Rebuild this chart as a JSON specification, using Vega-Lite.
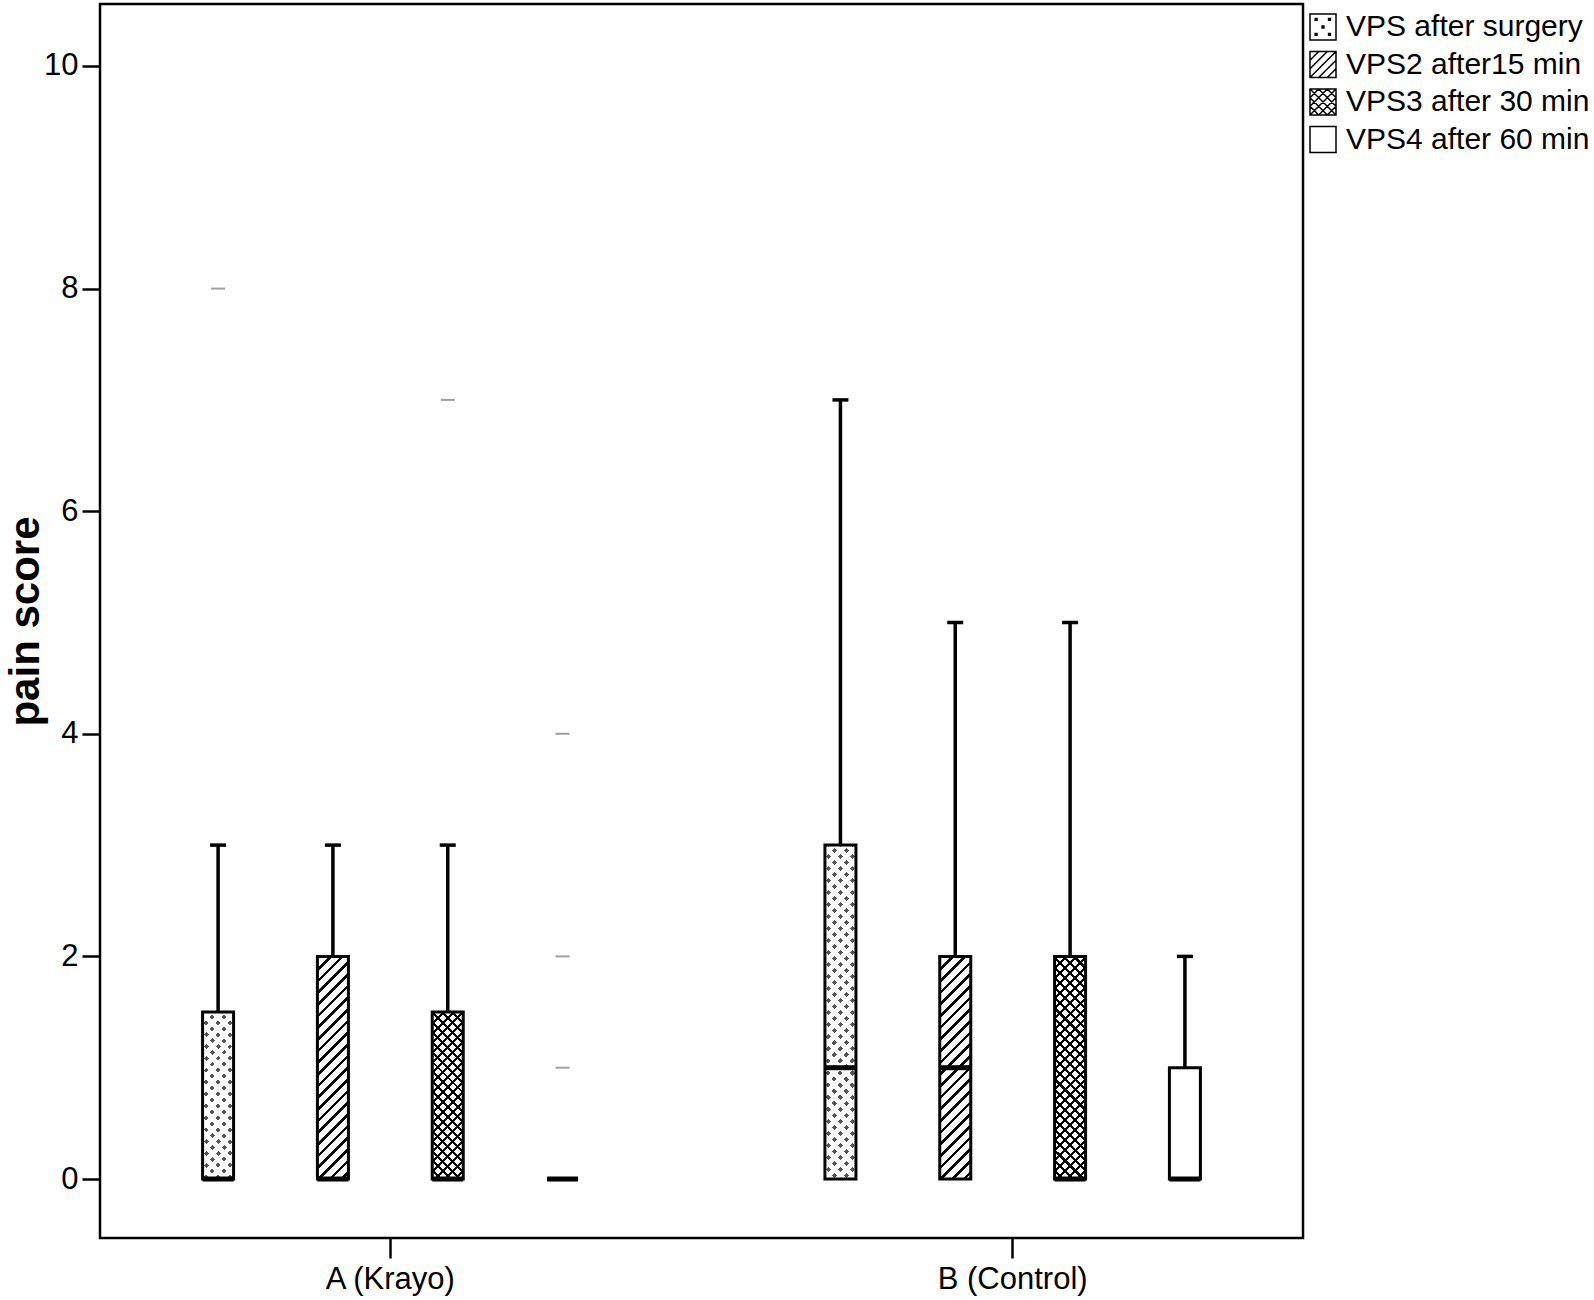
{
"$schema": "https://vega.github.io/schema/vega-lite/v6.json",
"width": 1203,
"height": 1234,
"autosize": {"type": "none"},
"padding": {"left": 100, "top": 4, "right": 291, "bottom": 62},
"background": "white",
"config": {
  "view": {"stroke": "black", "strokeWidth": 2.5},
  "font": "Liberation Sans",
  "axis": {"grid": false, "domain": false, "labelColor": "black", "tickColor": "black", "titleColor": "black", "labelFont": "Liberation Sans", "titleFont": "Liberation Sans"}
},
"datasets": {
  "boxes": [
    {"group": "A (Krayo)", "series": "VPS after surgery", "lower": 0, "q1": 0, "median": 0, "q3": 1.5, "upper": 3},
    {"group": "A (Krayo)", "series": "VPS2 after15 min", "lower": 0, "q1": 0, "median": 0, "q3": 2, "upper": 3},
    {"group": "A (Krayo)", "series": "VPS3 after 30 min", "lower": 0, "q1": 0, "median": 0, "q3": 1.5, "upper": 3},
    {"group": "A (Krayo)", "series": "VPS4 after 60 min", "lower": 0, "q1": 0, "median": 0, "q3": 0, "upper": 0},
    {"group": "B (Control)", "series": "VPS after surgery", "lower": 0, "q1": 0, "median": 1, "q3": 3, "upper": 7},
    {"group": "B (Control)", "series": "VPS2 after15 min", "lower": 0, "q1": 0, "median": 1, "q3": 2, "upper": 5},
    {"group": "B (Control)", "series": "VPS3 after 30 min", "lower": 0, "q1": 0, "median": 0, "q3": 2, "upper": 5},
    {"group": "B (Control)", "series": "VPS4 after 60 min", "lower": 0, "q1": 0, "median": 0, "q3": 1, "upper": 2}
  ],
  "outliers": [
    {"group": "A (Krayo)", "series": "VPS after surgery", "value": 8},
    {"group": "A (Krayo)", "series": "VPS3 after 30 min", "value": 7},
    {"group": "A (Krayo)", "series": "VPS4 after 60 min", "value": 4},
    {"group": "A (Krayo)", "series": "VPS4 after 60 min", "value": 2},
    {"group": "A (Krayo)", "series": "VPS4 after 60 min", "value": 1}
  ]
},
"encoding": {
  "x": {"field": "group", "type": "nominal", "title": null,
        "scale": {"domain": ["A (Krayo)", "B (Control)"], "paddingInner": 0.262, "paddingOuter": 0.0975},
        "axis": {"labelAngle": 0, "labelFontSize": 31, "tickSize": 20, "tickWidth": 2.5, "labelPadding": 6}},
  "xOffset": {"field": "series", "type": "nominal",
        "scale": {"domain": ["VPS after surgery", "VPS2 after15 min", "VPS3 after 30 min", "VPS4 after 60 min"], "paddingInner": 0.73, "paddingOuter": 0.365}}
},
"layer": [
  {"data": {"name": "boxes"},
   "transform": [{"filter": "datum.upper < 0"}],
   "mark": {"type": "point", "color": "black", "strokeWidth": 1.5, "opacity": 1},
   "encoding": {
     "y": {"field": "q1", "type": "quantitative", "title": "pain score",
           "scale": {"domain": [-0.53, 10.557], "nice": false, "zero": false},
           "axis": {"values": [0, 2, 4, 6, 8, 10], "format": "d", "tickSize": 18, "tickWidth": 2.5, "labelFontSize": 31, "labelPadding": 4, "titleFontSize": 42, "titleFontWeight": "bold", "titlePadding": -4}},
     "shape": {"field": "series", "type": "nominal",
       "scale": {"domain": ["VPS after surgery", "VPS2 after15 min", "VPS3 after 30 min", "VPS4 after 60 min"],
                 "range": [
                   "M-1,-1L1,-1L1,1L-1,1Z M-0.6,-0.65L-0.46,-0.65L-0.46,-0.51L-0.6,-0.51Z M0.43,-0.65L0.57,-0.65L0.57,-0.51L0.43,-0.51Z M-0.07,-0.07L0.07,-0.07L0.07,0.07L-0.07,0.07Z M-0.6,0.5L-0.46,0.5L-0.46,0.64L-0.6,0.64Z M0.43,0.5L0.57,0.5L0.57,0.64L0.43,0.64Z",
                   "M-1,-1L1,-1L1,1L-1,1Z M-1,-0.33L-0.33,-1 M-1,0.33L0.33,-1 M-1,1L1,-1 M-0.33,1L1,-0.33 M0.33,1L1,0.33",
                   "M-1,-1L1,-1L1,1L-1,1Z M-1,-0.33L-0.33,-1 M-1,0.33L0.33,-1 M-1,1L1,-1 M-0.33,1L1,-0.33 M0.33,1L1,0.33 M-1,0.33L-0.33,1 M-1,-0.33L0.33,1 M-1,-1L1,1 M-0.33,-1L1,0.33 M0.33,-1L1,-0.33",
                   "square"]},
       "legend": {"title": null, "orient": "none", "legendX": 1208, "legendY": 8, "symbolSize": 676, "symbolStrokeWidth": 1.5, "symbolStrokeColor": "black", "symbolOpacity": 1, "labelFontSize": 30, "labelFont": "Liberation Sans", "labelColor": "black", "labelOffset": 8, "rowPadding": 5.5, "padding": 0, "labelLimit": 400}}}},
  {"data": {"name": "boxes"}, "transform": [{"filter": "datum.upper > datum.q3"}],
   "mark": {"type": "rule", "color": "black", "strokeWidth": 3.5},
   "encoding": {
     "y": {"field": "q3", "type": "quantitative", "title": "pain score", "scale": {"domain": [-0.53, 10.557], "nice": false, "zero": false}},
     "y2": {"field": "upper"}}},
  {"data": {"name": "boxes"},
   "mark": {"type": "bar", "fill": "white"},
   "encoding": {"y": {"field": "q1", "type": "quantitative", "title": "pain score", "scale": {"domain": [-0.53, 10.557], "nice": false, "zero": false}}, "y2": {"field": "q3"}}},
  {"data": {"name": "boxes"},
   "transform": [{"filter": "datum.series == 'VPS2 after15 min'"}],
   "mark": {"type": "bar", "fill": {"gradient": "linear", "x1": 0, "y1": 0, "x2": 0.1556, "y2": 1.1176, "stops": [
{"offset":0,"color":"#000"},{"offset":0.015,"color":"#000"},{"offset":0.015,"color":"#fff"},{"offset":0.046,"color":"#fff"},
{"offset":0.046,"color":"#000"},{"offset":0.061,"color":"#000"},{"offset":0.061,"color":"#fff"},{"offset":0.092,"color":"#fff"},
{"offset":0.092,"color":"#000"},{"offset":0.107,"color":"#000"},{"offset":0.107,"color":"#fff"},{"offset":0.138,"color":"#fff"},
{"offset":0.138,"color":"#000"},{"offset":0.153,"color":"#000"},{"offset":0.153,"color":"#fff"},{"offset":0.184,"color":"#fff"},
{"offset":0.184,"color":"#000"},{"offset":0.199,"color":"#000"},{"offset":0.199,"color":"#fff"},{"offset":0.23,"color":"#fff"},
{"offset":0.23,"color":"#000"},{"offset":0.245,"color":"#000"},{"offset":0.245,"color":"#fff"},{"offset":0.276,"color":"#fff"},
{"offset":0.276,"color":"#000"},{"offset":0.291,"color":"#000"},{"offset":0.291,"color":"#fff"},{"offset":0.322,"color":"#fff"},
{"offset":0.322,"color":"#000"},{"offset":0.337,"color":"#000"},{"offset":0.337,"color":"#fff"},{"offset":0.368,"color":"#fff"},
{"offset":0.368,"color":"#000"},{"offset":0.383,"color":"#000"},{"offset":0.383,"color":"#fff"},{"offset":0.414,"color":"#fff"},
{"offset":0.414,"color":"#000"},{"offset":0.429,"color":"#000"},{"offset":0.429,"color":"#fff"},{"offset":0.46,"color":"#fff"},
{"offset":0.46,"color":"#000"},{"offset":0.475,"color":"#000"},{"offset":0.475,"color":"#fff"},{"offset":0.506,"color":"#fff"},
{"offset":0.506,"color":"#000"},{"offset":0.521,"color":"#000"},{"offset":0.521,"color":"#fff"},{"offset":0.552,"color":"#fff"},
{"offset":0.552,"color":"#000"},{"offset":0.567,"color":"#000"},{"offset":0.567,"color":"#fff"},{"offset":0.598,"color":"#fff"},
{"offset":0.598,"color":"#000"},{"offset":0.613,"color":"#000"},{"offset":0.613,"color":"#fff"},{"offset":0.644,"color":"#fff"},
{"offset":0.644,"color":"#000"},{"offset":0.659,"color":"#000"},{"offset":0.659,"color":"#fff"},{"offset":0.69,"color":"#fff"},
{"offset":0.69,"color":"#000"},{"offset":0.705,"color":"#000"},{"offset":0.705,"color":"#fff"},{"offset":0.736,"color":"#fff"},
{"offset":0.736,"color":"#000"},{"offset":0.751,"color":"#000"},{"offset":0.751,"color":"#fff"},{"offset":0.782,"color":"#fff"},
{"offset":0.782,"color":"#000"},{"offset":0.797,"color":"#000"},{"offset":0.797,"color":"#fff"},{"offset":0.828,"color":"#fff"},
{"offset":0.828,"color":"#000"},{"offset":0.843,"color":"#000"},{"offset":0.843,"color":"#fff"},{"offset":0.874,"color":"#fff"},
{"offset":0.874,"color":"#000"},{"offset":0.889,"color":"#000"},{"offset":0.889,"color":"#fff"},{"offset":0.92,"color":"#fff"},
{"offset":0.92,"color":"#000"},{"offset":0.935,"color":"#000"},{"offset":0.935,"color":"#fff"},{"offset":0.966,"color":"#fff"},
{"offset":0.966,"color":"#000"},{"offset":0.981,"color":"#000"},{"offset":0.981,"color":"#fff"},{"offset":1,"color":"#fff"}
   ]}},
   "encoding": {"y": {"field": "q1", "type": "quantitative", "title": "pain score", "scale": {"domain": [-0.53, 10.557], "nice": false, "zero": false}}, "y2": {"field": "q3"}}},
  {"data": {"name": "boxes"},
   "transform": [{"filter": "datum.series == 'VPS3 after 30 min' && datum.group == 'B (Control)'"}],
   "mark": {"type": "bar", "fill": {"gradient": "linear", "x1": 0, "y1": 0, "x2": 0.1556, "y2": 1.1176, "stops": [
{"offset":0,"color":"#000"},{"offset":0.012,"color":"#000"},{"offset":0.012,"color":"#fff"},{"offset":0.04,"color":"#fff"},
{"offset":0.04,"color":"#000"},{"offset":0.052,"color":"#000"},{"offset":0.052,"color":"#fff"},{"offset":0.08,"color":"#fff"},
{"offset":0.08,"color":"#000"},{"offset":0.092,"color":"#000"},{"offset":0.092,"color":"#fff"},{"offset":0.12,"color":"#fff"},
{"offset":0.12,"color":"#000"},{"offset":0.132,"color":"#000"},{"offset":0.132,"color":"#fff"},{"offset":0.16,"color":"#fff"},
{"offset":0.16,"color":"#000"},{"offset":0.172,"color":"#000"},{"offset":0.172,"color":"#fff"},{"offset":0.2,"color":"#fff"},
{"offset":0.2,"color":"#000"},{"offset":0.212,"color":"#000"},{"offset":0.212,"color":"#fff"},{"offset":0.24,"color":"#fff"},
{"offset":0.24,"color":"#000"},{"offset":0.252,"color":"#000"},{"offset":0.252,"color":"#fff"},{"offset":0.28,"color":"#fff"},
{"offset":0.28,"color":"#000"},{"offset":0.292,"color":"#000"},{"offset":0.292,"color":"#fff"},{"offset":0.32,"color":"#fff"},
{"offset":0.32,"color":"#000"},{"offset":0.332,"color":"#000"},{"offset":0.332,"color":"#fff"},{"offset":0.36,"color":"#fff"},
{"offset":0.36,"color":"#000"},{"offset":0.372,"color":"#000"},{"offset":0.372,"color":"#fff"},{"offset":0.4,"color":"#fff"},
{"offset":0.4,"color":"#000"},{"offset":0.412,"color":"#000"},{"offset":0.412,"color":"#fff"},{"offset":0.44,"color":"#fff"},
{"offset":0.44,"color":"#000"},{"offset":0.452,"color":"#000"},{"offset":0.452,"color":"#fff"},{"offset":0.48,"color":"#fff"},
{"offset":0.48,"color":"#000"},{"offset":0.492,"color":"#000"},{"offset":0.492,"color":"#fff"},{"offset":0.52,"color":"#fff"},
{"offset":0.52,"color":"#000"},{"offset":0.532,"color":"#000"},{"offset":0.532,"color":"#fff"},{"offset":0.56,"color":"#fff"},
{"offset":0.56,"color":"#000"},{"offset":0.572,"color":"#000"},{"offset":0.572,"color":"#fff"},{"offset":0.6,"color":"#fff"},
{"offset":0.6,"color":"#000"},{"offset":0.612,"color":"#000"},{"offset":0.612,"color":"#fff"},{"offset":0.64,"color":"#fff"},
{"offset":0.64,"color":"#000"},{"offset":0.652,"color":"#000"},{"offset":0.652,"color":"#fff"},{"offset":0.68,"color":"#fff"},
{"offset":0.68,"color":"#000"},{"offset":0.692,"color":"#000"},{"offset":0.692,"color":"#fff"},{"offset":0.72,"color":"#fff"},
{"offset":0.72,"color":"#000"},{"offset":0.732,"color":"#000"},{"offset":0.732,"color":"#fff"},{"offset":0.76,"color":"#fff"},
{"offset":0.76,"color":"#000"},{"offset":0.772,"color":"#000"},{"offset":0.772,"color":"#fff"},{"offset":0.8,"color":"#fff"},
{"offset":0.8,"color":"#000"},{"offset":0.812,"color":"#000"},{"offset":0.812,"color":"#fff"},{"offset":0.84,"color":"#fff"},
{"offset":0.84,"color":"#000"},{"offset":0.852,"color":"#000"},{"offset":0.852,"color":"#fff"},{"offset":0.88,"color":"#fff"},
{"offset":0.88,"color":"#000"},{"offset":0.892,"color":"#000"},{"offset":0.892,"color":"#fff"},{"offset":0.92,"color":"#fff"},
{"offset":0.92,"color":"#000"},{"offset":0.932,"color":"#000"},{"offset":0.932,"color":"#fff"},{"offset":0.96,"color":"#fff"},
{"offset":0.96,"color":"#000"},{"offset":0.972,"color":"#000"},{"offset":0.972,"color":"#fff"},{"offset":1,"color":"#fff"}
   ]}},
   "encoding": {"y": {"field": "q1", "type": "quantitative", "title": "pain score", "scale": {"domain": [-0.53, 10.557], "nice": false, "zero": false}}, "y2": {"field": "q3"}}},
  {"data": {"name": "boxes"},
   "transform": [{"filter": "datum.series == 'VPS3 after 30 min' && datum.group == 'B (Control)'"}],
   "mark": {"type": "bar", "fill": {"gradient": "linear", "x1": 1, "y1": 0, "x2": 0.8444, "y2": 1.1176, "stops": [
{"offset":0,"color":"#000"},{"offset":0.012,"color":"#000"},{"offset":0.012,"color":"transparent"},{"offset":0.04,"color":"transparent"},
{"offset":0.04,"color":"#000"},{"offset":0.052,"color":"#000"},{"offset":0.052,"color":"transparent"},{"offset":0.08,"color":"transparent"},
{"offset":0.08,"color":"#000"},{"offset":0.092,"color":"#000"},{"offset":0.092,"color":"transparent"},{"offset":0.12,"color":"transparent"},
{"offset":0.12,"color":"#000"},{"offset":0.132,"color":"#000"},{"offset":0.132,"color":"transparent"},{"offset":0.16,"color":"transparent"},
{"offset":0.16,"color":"#000"},{"offset":0.172,"color":"#000"},{"offset":0.172,"color":"transparent"},{"offset":0.2,"color":"transparent"},
{"offset":0.2,"color":"#000"},{"offset":0.212,"color":"#000"},{"offset":0.212,"color":"transparent"},{"offset":0.24,"color":"transparent"},
{"offset":0.24,"color":"#000"},{"offset":0.252,"color":"#000"},{"offset":0.252,"color":"transparent"},{"offset":0.28,"color":"transparent"},
{"offset":0.28,"color":"#000"},{"offset":0.292,"color":"#000"},{"offset":0.292,"color":"transparent"},{"offset":0.32,"color":"transparent"},
{"offset":0.32,"color":"#000"},{"offset":0.332,"color":"#000"},{"offset":0.332,"color":"transparent"},{"offset":0.36,"color":"transparent"},
{"offset":0.36,"color":"#000"},{"offset":0.372,"color":"#000"},{"offset":0.372,"color":"transparent"},{"offset":0.4,"color":"transparent"},
{"offset":0.4,"color":"#000"},{"offset":0.412,"color":"#000"},{"offset":0.412,"color":"transparent"},{"offset":0.44,"color":"transparent"},
{"offset":0.44,"color":"#000"},{"offset":0.452,"color":"#000"},{"offset":0.452,"color":"transparent"},{"offset":0.48,"color":"transparent"},
{"offset":0.48,"color":"#000"},{"offset":0.492,"color":"#000"},{"offset":0.492,"color":"transparent"},{"offset":0.52,"color":"transparent"},
{"offset":0.52,"color":"#000"},{"offset":0.532,"color":"#000"},{"offset":0.532,"color":"transparent"},{"offset":0.56,"color":"transparent"},
{"offset":0.56,"color":"#000"},{"offset":0.572,"color":"#000"},{"offset":0.572,"color":"transparent"},{"offset":0.6,"color":"transparent"},
{"offset":0.6,"color":"#000"},{"offset":0.612,"color":"#000"},{"offset":0.612,"color":"transparent"},{"offset":0.64,"color":"transparent"},
{"offset":0.64,"color":"#000"},{"offset":0.652,"color":"#000"},{"offset":0.652,"color":"transparent"},{"offset":0.68,"color":"transparent"},
{"offset":0.68,"color":"#000"},{"offset":0.692,"color":"#000"},{"offset":0.692,"color":"transparent"},{"offset":0.72,"color":"transparent"},
{"offset":0.72,"color":"#000"},{"offset":0.732,"color":"#000"},{"offset":0.732,"color":"transparent"},{"offset":0.76,"color":"transparent"},
{"offset":0.76,"color":"#000"},{"offset":0.772,"color":"#000"},{"offset":0.772,"color":"transparent"},{"offset":0.8,"color":"transparent"},
{"offset":0.8,"color":"#000"},{"offset":0.812,"color":"#000"},{"offset":0.812,"color":"transparent"},{"offset":0.84,"color":"transparent"},
{"offset":0.84,"color":"#000"},{"offset":0.852,"color":"#000"},{"offset":0.852,"color":"transparent"},{"offset":0.88,"color":"transparent"},
{"offset":0.88,"color":"#000"},{"offset":0.892,"color":"#000"},{"offset":0.892,"color":"transparent"},{"offset":0.92,"color":"transparent"},
{"offset":0.92,"color":"#000"},{"offset":0.932,"color":"#000"},{"offset":0.932,"color":"transparent"},{"offset":0.96,"color":"transparent"},
{"offset":0.96,"color":"#000"},{"offset":0.972,"color":"#000"},{"offset":0.972,"color":"transparent"},{"offset":1,"color":"transparent"}
   ]}},
   "encoding": {"y": {"field": "q1", "type": "quantitative", "title": "pain score", "scale": {"domain": [-0.53, 10.557], "nice": false, "zero": false}}, "y2": {"field": "q3"}}},
  {"data": {"name": "boxes"},
   "transform": [{"filter": "datum.series == 'VPS3 after 30 min' && datum.group == 'A (Krayo)'"}],
   "mark": {"type": "bar", "fill": {"gradient": "linear", "x1": 0, "y1": 0, "x2": 0.2128, "y2": 1.1462, "stops": [
{"offset":0,"color":"#000"},{"offset":0.015,"color":"#000"},{"offset":0.015,"color":"#fff"},{"offset":0.05,"color":"#fff"},
{"offset":0.05,"color":"#000"},{"offset":0.065,"color":"#000"},{"offset":0.065,"color":"#fff"},{"offset":0.1,"color":"#fff"},
{"offset":0.1,"color":"#000"},{"offset":0.115,"color":"#000"},{"offset":0.115,"color":"#fff"},{"offset":0.15,"color":"#fff"},
{"offset":0.15,"color":"#000"},{"offset":0.165,"color":"#000"},{"offset":0.165,"color":"#fff"},{"offset":0.2,"color":"#fff"},
{"offset":0.2,"color":"#000"},{"offset":0.215,"color":"#000"},{"offset":0.215,"color":"#fff"},{"offset":0.25,"color":"#fff"},
{"offset":0.25,"color":"#000"},{"offset":0.265,"color":"#000"},{"offset":0.265,"color":"#fff"},{"offset":0.3,"color":"#fff"},
{"offset":0.3,"color":"#000"},{"offset":0.315,"color":"#000"},{"offset":0.315,"color":"#fff"},{"offset":0.35,"color":"#fff"},
{"offset":0.35,"color":"#000"},{"offset":0.365,"color":"#000"},{"offset":0.365,"color":"#fff"},{"offset":0.4,"color":"#fff"},
{"offset":0.4,"color":"#000"},{"offset":0.415,"color":"#000"},{"offset":0.415,"color":"#fff"},{"offset":0.45,"color":"#fff"},
{"offset":0.45,"color":"#000"},{"offset":0.465,"color":"#000"},{"offset":0.465,"color":"#fff"},{"offset":0.5,"color":"#fff"},
{"offset":0.5,"color":"#000"},{"offset":0.515,"color":"#000"},{"offset":0.515,"color":"#fff"},{"offset":0.55,"color":"#fff"},
{"offset":0.55,"color":"#000"},{"offset":0.565,"color":"#000"},{"offset":0.565,"color":"#fff"},{"offset":0.6,"color":"#fff"},
{"offset":0.6,"color":"#000"},{"offset":0.615,"color":"#000"},{"offset":0.615,"color":"#fff"},{"offset":0.65,"color":"#fff"},
{"offset":0.65,"color":"#000"},{"offset":0.665,"color":"#000"},{"offset":0.665,"color":"#fff"},{"offset":0.7,"color":"#fff"},
{"offset":0.7,"color":"#000"},{"offset":0.715,"color":"#000"},{"offset":0.715,"color":"#fff"},{"offset":0.75,"color":"#fff"},
{"offset":0.75,"color":"#000"},{"offset":0.765,"color":"#000"},{"offset":0.765,"color":"#fff"},{"offset":0.8,"color":"#fff"},
{"offset":0.8,"color":"#000"},{"offset":0.815,"color":"#000"},{"offset":0.815,"color":"#fff"},{"offset":0.85,"color":"#fff"},
{"offset":0.85,"color":"#000"},{"offset":0.865,"color":"#000"},{"offset":0.865,"color":"#fff"},{"offset":0.9,"color":"#fff"},
{"offset":0.9,"color":"#000"},{"offset":0.915,"color":"#000"},{"offset":0.915,"color":"#fff"},{"offset":0.95,"color":"#fff"},
{"offset":0.95,"color":"#000"},{"offset":0.965,"color":"#000"},{"offset":0.965,"color":"#fff"},{"offset":1,"color":"#fff"}
   ]}},
   "encoding": {"y": {"field": "q1", "type": "quantitative", "title": "pain score", "scale": {"domain": [-0.53, 10.557], "nice": false, "zero": false}}, "y2": {"field": "q3"}}},
  {"data": {"name": "boxes"},
   "transform": [{"filter": "datum.series == 'VPS3 after 30 min' && datum.group == 'A (Krayo)'"}],
   "mark": {"type": "bar", "fill": {"gradient": "linear", "x1": 1, "y1": 0, "x2": 0.7872, "y2": 1.1462, "stops": [
{"offset":0,"color":"#000"},{"offset":0.015,"color":"#000"},{"offset":0.015,"color":"transparent"},{"offset":0.05,"color":"transparent"},
{"offset":0.05,"color":"#000"},{"offset":0.065,"color":"#000"},{"offset":0.065,"color":"transparent"},{"offset":0.1,"color":"transparent"},
{"offset":0.1,"color":"#000"},{"offset":0.115,"color":"#000"},{"offset":0.115,"color":"transparent"},{"offset":0.15,"color":"transparent"},
{"offset":0.15,"color":"#000"},{"offset":0.165,"color":"#000"},{"offset":0.165,"color":"transparent"},{"offset":0.2,"color":"transparent"},
{"offset":0.2,"color":"#000"},{"offset":0.215,"color":"#000"},{"offset":0.215,"color":"transparent"},{"offset":0.25,"color":"transparent"},
{"offset":0.25,"color":"#000"},{"offset":0.265,"color":"#000"},{"offset":0.265,"color":"transparent"},{"offset":0.3,"color":"transparent"},
{"offset":0.3,"color":"#000"},{"offset":0.315,"color":"#000"},{"offset":0.315,"color":"transparent"},{"offset":0.35,"color":"transparent"},
{"offset":0.35,"color":"#000"},{"offset":0.365,"color":"#000"},{"offset":0.365,"color":"transparent"},{"offset":0.4,"color":"transparent"},
{"offset":0.4,"color":"#000"},{"offset":0.415,"color":"#000"},{"offset":0.415,"color":"transparent"},{"offset":0.45,"color":"transparent"},
{"offset":0.45,"color":"#000"},{"offset":0.465,"color":"#000"},{"offset":0.465,"color":"transparent"},{"offset":0.5,"color":"transparent"},
{"offset":0.5,"color":"#000"},{"offset":0.515,"color":"#000"},{"offset":0.515,"color":"transparent"},{"offset":0.55,"color":"transparent"},
{"offset":0.55,"color":"#000"},{"offset":0.565,"color":"#000"},{"offset":0.565,"color":"transparent"},{"offset":0.6,"color":"transparent"},
{"offset":0.6,"color":"#000"},{"offset":0.615,"color":"#000"},{"offset":0.615,"color":"transparent"},{"offset":0.65,"color":"transparent"},
{"offset":0.65,"color":"#000"},{"offset":0.665,"color":"#000"},{"offset":0.665,"color":"transparent"},{"offset":0.7,"color":"transparent"},
{"offset":0.7,"color":"#000"},{"offset":0.715,"color":"#000"},{"offset":0.715,"color":"transparent"},{"offset":0.75,"color":"transparent"},
{"offset":0.75,"color":"#000"},{"offset":0.765,"color":"#000"},{"offset":0.765,"color":"transparent"},{"offset":0.8,"color":"transparent"},
{"offset":0.8,"color":"#000"},{"offset":0.815,"color":"#000"},{"offset":0.815,"color":"transparent"},{"offset":0.85,"color":"transparent"},
{"offset":0.85,"color":"#000"},{"offset":0.865,"color":"#000"},{"offset":0.865,"color":"transparent"},{"offset":0.9,"color":"transparent"},
{"offset":0.9,"color":"#000"},{"offset":0.915,"color":"#000"},{"offset":0.915,"color":"transparent"},{"offset":0.95,"color":"transparent"},
{"offset":0.95,"color":"#000"},{"offset":0.965,"color":"#000"},{"offset":0.965,"color":"transparent"},{"offset":1,"color":"transparent"}
   ]}},
   "encoding": {"y": {"field": "q1", "type": "quantitative", "title": "pain score", "scale": {"domain": [-0.53, 10.557], "nice": false, "zero": false}}, "y2": {"field": "q3"}}},
  {"data": {"name": "boxes"},
   "transform": [{"filter": "datum.series == 'VPS after surgery' && datum.group == 'A (Krayo)'"}],
   "mark": {"type": "bar", "fill": {"gradient": "linear", "x1": 0, "y1": 0, "x2": 0.2128, "y2": 1.1462, "stops": [
{"offset":0,"color":"#555"},{"offset":0.025,"color":"#555"},{"offset":0.025,"color":"#fff"},{"offset":0.06,"color":"#fff"},
{"offset":0.06,"color":"#555"},{"offset":0.085,"color":"#555"},{"offset":0.085,"color":"#fff"},{"offset":0.12,"color":"#fff"},
{"offset":0.12,"color":"#555"},{"offset":0.145,"color":"#555"},{"offset":0.145,"color":"#fff"},{"offset":0.18,"color":"#fff"},
{"offset":0.18,"color":"#555"},{"offset":0.205,"color":"#555"},{"offset":0.205,"color":"#fff"},{"offset":0.24,"color":"#fff"},
{"offset":0.24,"color":"#555"},{"offset":0.265,"color":"#555"},{"offset":0.265,"color":"#fff"},{"offset":0.3,"color":"#fff"},
{"offset":0.3,"color":"#555"},{"offset":0.325,"color":"#555"},{"offset":0.325,"color":"#fff"},{"offset":0.36,"color":"#fff"},
{"offset":0.36,"color":"#555"},{"offset":0.385,"color":"#555"},{"offset":0.385,"color":"#fff"},{"offset":0.42,"color":"#fff"},
{"offset":0.42,"color":"#555"},{"offset":0.445,"color":"#555"},{"offset":0.445,"color":"#fff"},{"offset":0.48,"color":"#fff"},
{"offset":0.48,"color":"#555"},{"offset":0.505,"color":"#555"},{"offset":0.505,"color":"#fff"},{"offset":0.54,"color":"#fff"},
{"offset":0.54,"color":"#555"},{"offset":0.565,"color":"#555"},{"offset":0.565,"color":"#fff"},{"offset":0.6,"color":"#fff"},
{"offset":0.6,"color":"#555"},{"offset":0.625,"color":"#555"},{"offset":0.625,"color":"#fff"},{"offset":0.66,"color":"#fff"},
{"offset":0.66,"color":"#555"},{"offset":0.685,"color":"#555"},{"offset":0.685,"color":"#fff"},{"offset":0.72,"color":"#fff"},
{"offset":0.72,"color":"#555"},{"offset":0.745,"color":"#555"},{"offset":0.745,"color":"#fff"},{"offset":0.78,"color":"#fff"},
{"offset":0.78,"color":"#555"},{"offset":0.805,"color":"#555"},{"offset":0.805,"color":"#fff"},{"offset":0.84,"color":"#fff"},
{"offset":0.84,"color":"#555"},{"offset":0.865,"color":"#555"},{"offset":0.865,"color":"#fff"},{"offset":0.9,"color":"#fff"},
{"offset":0.9,"color":"#555"},{"offset":0.925,"color":"#555"},{"offset":0.925,"color":"#fff"},{"offset":0.96,"color":"#fff"},
{"offset":0.96,"color":"#555"},{"offset":0.985,"color":"#555"},{"offset":0.985,"color":"#fff"},{"offset":1,"color":"#fff"}
   ]}},
   "encoding": {"y": {"field": "q1", "type": "quantitative", "title": "pain score", "scale": {"domain": [-0.53, 10.557], "nice": false, "zero": false}}, "y2": {"field": "q3"}}},
  {"data": {"name": "boxes"},
   "transform": [{"filter": "datum.series == 'VPS after surgery' && datum.group == 'A (Krayo)'"}],
   "mark": {"type": "bar", "fill": {"gradient": "linear", "x1": 1, "y1": 0, "x2": 0.7872, "y2": 1.1462, "stops": [
{"offset":0,"color":"transparent"},{"offset":0.025,"color":"transparent"},{"offset":0.025,"color":"#fff"},{"offset":0.06,"color":"#fff"},
{"offset":0.06,"color":"transparent"},{"offset":0.085,"color":"transparent"},{"offset":0.085,"color":"#fff"},{"offset":0.12,"color":"#fff"},
{"offset":0.12,"color":"transparent"},{"offset":0.145,"color":"transparent"},{"offset":0.145,"color":"#fff"},{"offset":0.18,"color":"#fff"},
{"offset":0.18,"color":"transparent"},{"offset":0.205,"color":"transparent"},{"offset":0.205,"color":"#fff"},{"offset":0.24,"color":"#fff"},
{"offset":0.24,"color":"transparent"},{"offset":0.265,"color":"transparent"},{"offset":0.265,"color":"#fff"},{"offset":0.3,"color":"#fff"},
{"offset":0.3,"color":"transparent"},{"offset":0.325,"color":"transparent"},{"offset":0.325,"color":"#fff"},{"offset":0.36,"color":"#fff"},
{"offset":0.36,"color":"transparent"},{"offset":0.385,"color":"transparent"},{"offset":0.385,"color":"#fff"},{"offset":0.42,"color":"#fff"},
{"offset":0.42,"color":"transparent"},{"offset":0.445,"color":"transparent"},{"offset":0.445,"color":"#fff"},{"offset":0.48,"color":"#fff"},
{"offset":0.48,"color":"transparent"},{"offset":0.505,"color":"transparent"},{"offset":0.505,"color":"#fff"},{"offset":0.54,"color":"#fff"},
{"offset":0.54,"color":"transparent"},{"offset":0.565,"color":"transparent"},{"offset":0.565,"color":"#fff"},{"offset":0.6,"color":"#fff"},
{"offset":0.6,"color":"transparent"},{"offset":0.625,"color":"transparent"},{"offset":0.625,"color":"#fff"},{"offset":0.66,"color":"#fff"},
{"offset":0.66,"color":"transparent"},{"offset":0.685,"color":"transparent"},{"offset":0.685,"color":"#fff"},{"offset":0.72,"color":"#fff"},
{"offset":0.72,"color":"transparent"},{"offset":0.745,"color":"transparent"},{"offset":0.745,"color":"#fff"},{"offset":0.78,"color":"#fff"},
{"offset":0.78,"color":"transparent"},{"offset":0.805,"color":"transparent"},{"offset":0.805,"color":"#fff"},{"offset":0.84,"color":"#fff"},
{"offset":0.84,"color":"transparent"},{"offset":0.865,"color":"transparent"},{"offset":0.865,"color":"#fff"},{"offset":0.9,"color":"#fff"},
{"offset":0.9,"color":"transparent"},{"offset":0.925,"color":"transparent"},{"offset":0.925,"color":"#fff"},{"offset":0.96,"color":"#fff"},
{"offset":0.96,"color":"transparent"},{"offset":0.985,"color":"transparent"},{"offset":0.985,"color":"#fff"},{"offset":1,"color":"#fff"}
   ]}},
   "encoding": {"y": {"field": "q1", "type": "quantitative", "title": "pain score", "scale": {"domain": [-0.53, 10.557], "nice": false, "zero": false}}, "y2": {"field": "q3"}}},
  {"data": {"name": "boxes"},
   "transform": [{"filter": "datum.series == 'VPS after surgery' && datum.group == 'B (Control)'"}],
   "mark": {"type": "bar", "fill": {"gradient": "linear", "x1": 0, "y1": 0, "x2": 0.1006, "y2": 1.0835, "stops": [
{"offset":0,"color":"#555"},{"offset":0.014,"color":"#555"},{"offset":0.014,"color":"#fff"},{"offset":0.033,"color":"#fff"},
{"offset":0.033,"color":"#555"},{"offset":0.047,"color":"#555"},{"offset":0.047,"color":"#fff"},{"offset":0.066,"color":"#fff"},
{"offset":0.066,"color":"#555"},{"offset":0.08,"color":"#555"},{"offset":0.08,"color":"#fff"},{"offset":0.099,"color":"#fff"},
{"offset":0.099,"color":"#555"},{"offset":0.113,"color":"#555"},{"offset":0.113,"color":"#fff"},{"offset":0.132,"color":"#fff"},
{"offset":0.132,"color":"#555"},{"offset":0.146,"color":"#555"},{"offset":0.146,"color":"#fff"},{"offset":0.165,"color":"#fff"},
{"offset":0.165,"color":"#555"},{"offset":0.179,"color":"#555"},{"offset":0.179,"color":"#fff"},{"offset":0.198,"color":"#fff"},
{"offset":0.198,"color":"#555"},{"offset":0.212,"color":"#555"},{"offset":0.212,"color":"#fff"},{"offset":0.231,"color":"#fff"},
{"offset":0.231,"color":"#555"},{"offset":0.245,"color":"#555"},{"offset":0.245,"color":"#fff"},{"offset":0.264,"color":"#fff"},
{"offset":0.264,"color":"#555"},{"offset":0.278,"color":"#555"},{"offset":0.278,"color":"#fff"},{"offset":0.297,"color":"#fff"},
{"offset":0.297,"color":"#555"},{"offset":0.311,"color":"#555"},{"offset":0.311,"color":"#fff"},{"offset":0.33,"color":"#fff"},
{"offset":0.33,"color":"#555"},{"offset":0.344,"color":"#555"},{"offset":0.344,"color":"#fff"},{"offset":0.363,"color":"#fff"},
{"offset":0.363,"color":"#555"},{"offset":0.377,"color":"#555"},{"offset":0.377,"color":"#fff"},{"offset":0.396,"color":"#fff"},
{"offset":0.396,"color":"#555"},{"offset":0.41,"color":"#555"},{"offset":0.41,"color":"#fff"},{"offset":0.429,"color":"#fff"},
{"offset":0.429,"color":"#555"},{"offset":0.443,"color":"#555"},{"offset":0.443,"color":"#fff"},{"offset":0.462,"color":"#fff"},
{"offset":0.462,"color":"#555"},{"offset":0.476,"color":"#555"},{"offset":0.476,"color":"#fff"},{"offset":0.495,"color":"#fff"},
{"offset":0.495,"color":"#555"},{"offset":0.509,"color":"#555"},{"offset":0.509,"color":"#fff"},{"offset":0.528,"color":"#fff"},
{"offset":0.528,"color":"#555"},{"offset":0.542,"color":"#555"},{"offset":0.542,"color":"#fff"},{"offset":0.561,"color":"#fff"},
{"offset":0.561,"color":"#555"},{"offset":0.575,"color":"#555"},{"offset":0.575,"color":"#fff"},{"offset":0.594,"color":"#fff"},
{"offset":0.594,"color":"#555"},{"offset":0.608,"color":"#555"},{"offset":0.608,"color":"#fff"},{"offset":0.627,"color":"#fff"},
{"offset":0.627,"color":"#555"},{"offset":0.641,"color":"#555"},{"offset":0.641,"color":"#fff"},{"offset":0.66,"color":"#fff"},
{"offset":0.66,"color":"#555"},{"offset":0.674,"color":"#555"},{"offset":0.674,"color":"#fff"},{"offset":0.693,"color":"#fff"},
{"offset":0.693,"color":"#555"},{"offset":0.707,"color":"#555"},{"offset":0.707,"color":"#fff"},{"offset":0.726,"color":"#fff"},
{"offset":0.726,"color":"#555"},{"offset":0.74,"color":"#555"},{"offset":0.74,"color":"#fff"},{"offset":0.759,"color":"#fff"},
{"offset":0.759,"color":"#555"},{"offset":0.773,"color":"#555"},{"offset":0.773,"color":"#fff"},{"offset":0.792,"color":"#fff"},
{"offset":0.792,"color":"#555"},{"offset":0.806,"color":"#555"},{"offset":0.806,"color":"#fff"},{"offset":0.825,"color":"#fff"},
{"offset":0.825,"color":"#555"},{"offset":0.839,"color":"#555"},{"offset":0.839,"color":"#fff"},{"offset":0.858,"color":"#fff"},
{"offset":0.858,"color":"#555"},{"offset":0.872,"color":"#555"},{"offset":0.872,"color":"#fff"},{"offset":0.891,"color":"#fff"},
{"offset":0.891,"color":"#555"},{"offset":0.905,"color":"#555"},{"offset":0.905,"color":"#fff"},{"offset":0.924,"color":"#fff"},
{"offset":0.924,"color":"#555"},{"offset":0.938,"color":"#555"},{"offset":0.938,"color":"#fff"},{"offset":0.957,"color":"#fff"},
{"offset":0.957,"color":"#555"},{"offset":0.971,"color":"#555"},{"offset":0.971,"color":"#fff"},{"offset":0.99,"color":"#fff"},
{"offset":0.99,"color":"#555"},{"offset":1,"color":"#555"}
   ]}},
   "encoding": {"y": {"field": "q1", "type": "quantitative", "title": "pain score", "scale": {"domain": [-0.53, 10.557], "nice": false, "zero": false}}, "y2": {"field": "q3"}}},
  {"data": {"name": "boxes"},
   "transform": [{"filter": "datum.series == 'VPS after surgery' && datum.group == 'B (Control)'"}],
   "mark": {"type": "bar", "fill": {"gradient": "linear", "x1": 1, "y1": 0, "x2": 0.8994, "y2": 1.0835, "stops": [
{"offset":0,"color":"transparent"},{"offset":0.014,"color":"transparent"},{"offset":0.014,"color":"#fff"},{"offset":0.033,"color":"#fff"},
{"offset":0.033,"color":"transparent"},{"offset":0.047,"color":"transparent"},{"offset":0.047,"color":"#fff"},{"offset":0.066,"color":"#fff"},
{"offset":0.066,"color":"transparent"},{"offset":0.08,"color":"transparent"},{"offset":0.08,"color":"#fff"},{"offset":0.099,"color":"#fff"},
{"offset":0.099,"color":"transparent"},{"offset":0.113,"color":"transparent"},{"offset":0.113,"color":"#fff"},{"offset":0.132,"color":"#fff"},
{"offset":0.132,"color":"transparent"},{"offset":0.146,"color":"transparent"},{"offset":0.146,"color":"#fff"},{"offset":0.165,"color":"#fff"},
{"offset":0.165,"color":"transparent"},{"offset":0.179,"color":"transparent"},{"offset":0.179,"color":"#fff"},{"offset":0.198,"color":"#fff"},
{"offset":0.198,"color":"transparent"},{"offset":0.212,"color":"transparent"},{"offset":0.212,"color":"#fff"},{"offset":0.231,"color":"#fff"},
{"offset":0.231,"color":"transparent"},{"offset":0.245,"color":"transparent"},{"offset":0.245,"color":"#fff"},{"offset":0.264,"color":"#fff"},
{"offset":0.264,"color":"transparent"},{"offset":0.278,"color":"transparent"},{"offset":0.278,"color":"#fff"},{"offset":0.297,"color":"#fff"},
{"offset":0.297,"color":"transparent"},{"offset":0.311,"color":"transparent"},{"offset":0.311,"color":"#fff"},{"offset":0.33,"color":"#fff"},
{"offset":0.33,"color":"transparent"},{"offset":0.344,"color":"transparent"},{"offset":0.344,"color":"#fff"},{"offset":0.363,"color":"#fff"},
{"offset":0.363,"color":"transparent"},{"offset":0.377,"color":"transparent"},{"offset":0.377,"color":"#fff"},{"offset":0.396,"color":"#fff"},
{"offset":0.396,"color":"transparent"},{"offset":0.41,"color":"transparent"},{"offset":0.41,"color":"#fff"},{"offset":0.429,"color":"#fff"},
{"offset":0.429,"color":"transparent"},{"offset":0.443,"color":"transparent"},{"offset":0.443,"color":"#fff"},{"offset":0.462,"color":"#fff"},
{"offset":0.462,"color":"transparent"},{"offset":0.476,"color":"transparent"},{"offset":0.476,"color":"#fff"},{"offset":0.495,"color":"#fff"},
{"offset":0.495,"color":"transparent"},{"offset":0.509,"color":"transparent"},{"offset":0.509,"color":"#fff"},{"offset":0.528,"color":"#fff"},
{"offset":0.528,"color":"transparent"},{"offset":0.542,"color":"transparent"},{"offset":0.542,"color":"#fff"},{"offset":0.561,"color":"#fff"},
{"offset":0.561,"color":"transparent"},{"offset":0.575,"color":"transparent"},{"offset":0.575,"color":"#fff"},{"offset":0.594,"color":"#fff"},
{"offset":0.594,"color":"transparent"},{"offset":0.608,"color":"transparent"},{"offset":0.608,"color":"#fff"},{"offset":0.627,"color":"#fff"},
{"offset":0.627,"color":"transparent"},{"offset":0.641,"color":"transparent"},{"offset":0.641,"color":"#fff"},{"offset":0.66,"color":"#fff"},
{"offset":0.66,"color":"transparent"},{"offset":0.674,"color":"transparent"},{"offset":0.674,"color":"#fff"},{"offset":0.693,"color":"#fff"},
{"offset":0.693,"color":"transparent"},{"offset":0.707,"color":"transparent"},{"offset":0.707,"color":"#fff"},{"offset":0.726,"color":"#fff"},
{"offset":0.726,"color":"transparent"},{"offset":0.74,"color":"transparent"},{"offset":0.74,"color":"#fff"},{"offset":0.759,"color":"#fff"},
{"offset":0.759,"color":"transparent"},{"offset":0.773,"color":"transparent"},{"offset":0.773,"color":"#fff"},{"offset":0.792,"color":"#fff"},
{"offset":0.792,"color":"transparent"},{"offset":0.806,"color":"transparent"},{"offset":0.806,"color":"#fff"},{"offset":0.825,"color":"#fff"},
{"offset":0.825,"color":"transparent"},{"offset":0.839,"color":"transparent"},{"offset":0.839,"color":"#fff"},{"offset":0.858,"color":"#fff"},
{"offset":0.858,"color":"transparent"},{"offset":0.872,"color":"transparent"},{"offset":0.872,"color":"#fff"},{"offset":0.891,"color":"#fff"},
{"offset":0.891,"color":"transparent"},{"offset":0.905,"color":"transparent"},{"offset":0.905,"color":"#fff"},{"offset":0.924,"color":"#fff"},
{"offset":0.924,"color":"transparent"},{"offset":0.938,"color":"transparent"},{"offset":0.938,"color":"#fff"},{"offset":0.957,"color":"#fff"},
{"offset":0.957,"color":"transparent"},{"offset":0.971,"color":"transparent"},{"offset":0.971,"color":"#fff"},{"offset":0.99,"color":"#fff"},
{"offset":0.99,"color":"transparent"},{"offset":1,"color":"transparent"}
   ]}},
   "encoding": {"y": {"field": "q1", "type": "quantitative", "title": "pain score", "scale": {"domain": [-0.53, 10.557], "nice": false, "zero": false}}, "y2": {"field": "q3"}}},
  {"data": {"name": "boxes"},
   "mark": {"type": "bar", "fillOpacity": 0, "stroke": "black", "strokeWidth": 3},
   "encoding": {"y": {"field": "q1", "type": "quantitative", "title": "pain score", "scale": {"domain": [-0.53, 10.557], "nice": false, "zero": false}}, "y2": {"field": "q3"}}},
  {"data": {"name": "boxes"},
   "mark": {"type": "tick", "color": "black", "size": 31, "thickness": 5, "opacity": 1},
   "encoding": {"y": {"field": "median", "type": "quantitative", "title": "pain score", "scale": {"domain": [-0.53, 10.557], "nice": false, "zero": false}}}},
  {"data": {"name": "boxes"}, "transform": [{"filter": "datum.upper > datum.q3"}],
   "mark": {"type": "tick", "color": "black", "size": 16, "thickness": 3.5, "opacity": 1},
   "encoding": {"y": {"field": "upper", "type": "quantitative", "title": "pain score", "scale": {"domain": [-0.53, 10.557], "nice": false, "zero": false}}}},
  {"data": {"name": "outliers"},
   "mark": {"type": "tick", "color": "#a0a0a0", "size": 14, "thickness": 2, "opacity": 1},
   "encoding": {"y": {"field": "value", "type": "quantitative", "title": "pain score", "scale": {"domain": [-0.53, 10.557], "nice": false, "zero": false}}}}
]
}
